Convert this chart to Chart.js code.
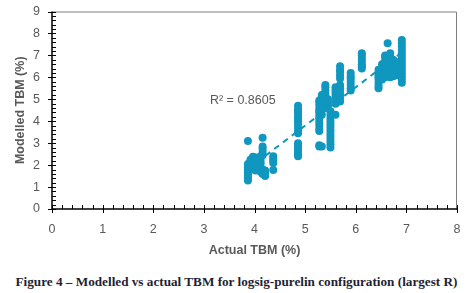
<!DOCTYPE html>
<html>
<head>
<meta charset="utf-8">
<script src="https://cdn.jsdelivr.net/npm/chart.js@4/dist/chart.umd.min.js"></script>
<style>
  body { margin: 0; background: #fff; width: 473px; height: 293px; overflow: hidden; position: relative; }
  #wrap { position: absolute; left: 0; top: 0; width: 473px; height: 262px; }
  #caption {
    position: absolute; left: 0; top: 274px; width: 473px; text-align: center;
    font: bold 13.2px "Liberation Serif", serif; color: #1f1f33; white-space: nowrap;
  }
</style>
</head>
<body>
<div id="wrap"><canvas id="chart" width="473" height="262"></canvas></div>
<div id="caption">Figure 4 – Modelled vs actual TBM for logsig-purelin configuration (largest R)</div>
<script>
// ---------------- Data ----------------
// actual TBM (x) and modelled TBM (y)
const actualTBM = [
  3.87, 3.87, 3.87, 3.87, 3.87, 3.87, 3.87, 3.87, 3.87, 3.87, 3.87, 3.87,
  3.92, 3.92, 3.92, 3.92, 3.92,
  3.97, 3.97, 3.97, 3.97, 3.97, 3.97,
  4.02, 4.02, 4.02, 4.02, 4.02, 4.02, 4.02,
  4.07, 4.07, 4.07, 4.07, 4.07, 4.07,
  4.12, 4.12, 4.12, 4.12, 4.12, 4.12,
  4.16, 4.16, 4.16, 4.16, 4.16, 4.16, 4.16, 4.16,
  4.21, 4.21, 4.21, 4.21,
  4.37, 4.37, 4.37, 4.37, 4.37,
  4.86, 4.86, 4.86, 4.86, 4.86, 4.86, 4.86, 4.86, 4.86, 4.86, 4.86, 4.86, 4.86, 4.86, 4.86, 4.86, 4.86, 4.86,
  5.28, 5.28, 5.28, 5.28, 5.28, 5.28, 5.28, 5.28, 5.28, 5.28, 5.28, 5.28, 5.28, 5.28,
  5.33, 5.33, 5.33, 5.33, 5.33, 5.33, 5.33, 5.33,
  5.40, 5.40, 5.40, 5.40, 5.40, 5.40, 5.40, 5.40, 5.40,
  5.45, 5.45, 5.45,
  5.50, 5.50, 5.50, 5.50, 5.50, 5.50, 5.50, 5.50, 5.50, 5.50, 5.50, 5.50,
  5.60, 5.60, 5.60, 5.60, 5.60, 5.60, 5.60,
  5.69, 5.69, 5.69, 5.69, 5.69, 5.69, 5.69, 5.69, 5.69, 5.69, 5.69,
  5.90, 5.90, 5.90, 5.90, 5.90, 5.90, 5.90,
  6.12, 6.12, 6.12, 6.12, 6.12, 6.12, 6.12,
  6.45, 6.45, 6.45, 6.45, 6.45, 6.45, 6.45, 6.45,
  6.52, 6.52, 6.52, 6.52, 6.52, 6.52,
  6.58, 6.58, 6.58, 6.58, 6.58, 6.58, 6.58, 6.58,
  6.63, 6.63, 6.63, 6.63, 6.63, 6.63, 6.63,
  6.68, 6.68, 6.68, 6.68, 6.68, 6.68, 6.68, 6.68,
  6.74, 6.74, 6.74, 6.74, 6.74, 6.74,
  6.80, 6.80, 6.80, 6.80, 6.80,
  6.86, 6.86, 6.86, 6.86,
  6.91, 6.91, 6.91, 6.91, 6.91, 6.91, 6.91, 6.91, 6.91, 6.91, 6.91, 6.91, 6.91, 6.91
];
const modelledTBM = [
  1.30, 1.38, 1.45, 1.52, 1.60, 1.68, 1.75, 1.82, 1.90, 1.98, 2.05, 3.10,
  1.85, 1.95, 2.05, 2.15, 2.25,
  1.90, 2.00, 2.10, 2.20, 2.30, 2.38,
  1.75, 1.85, 1.95, 2.05, 2.15, 2.25, 2.35,
  1.80, 1.90, 2.00, 2.10, 2.20, 2.30,
  1.70, 1.80, 2.05, 2.15, 2.30, 2.40,
  1.60, 1.70, 1.80, 2.45, 2.60, 2.75, 2.85, 3.25,
  1.50, 1.58, 1.65, 1.75,
  1.78, 2.10, 2.20, 2.30, 2.40,
  2.40, 2.50, 2.60, 2.70, 2.80, 2.90, 3.00, 3.45, 3.55, 3.70, 3.85, 4.00, 4.10, 4.20, 4.35, 4.45, 4.55, 4.70,
  2.85, 2.90, 3.55, 3.65, 3.80, 3.95, 4.10, 4.20, 4.35, 4.45, 4.55, 4.70, 4.85, 4.95,
  2.85, 4.30, 4.50, 4.65, 4.80, 4.95, 5.10, 5.20,
  4.60, 4.75, 4.90, 5.00, 5.10, 5.25, 5.40, 5.55, 5.65,
  4.70, 4.85, 5.00,
  2.80, 2.95, 3.10, 3.25, 3.40, 3.55, 3.70, 3.85, 4.00, 4.15, 4.30, 4.45,
  4.30, 4.80, 4.95, 5.10, 5.25, 5.40, 5.55,
  4.90, 5.05, 5.20, 5.35, 5.50, 5.65, 5.95, 6.10, 6.25, 6.35, 6.50,
  5.40, 5.50, 5.65, 5.80, 5.95, 6.05, 6.20,
  6.40, 6.50, 6.60, 6.75, 6.85, 7.00, 7.10,
  5.50, 5.60, 5.75, 5.90, 6.00, 6.10, 6.20, 6.35,
  5.90, 6.05, 6.15, 6.30, 6.45, 6.60,
  6.00, 6.15, 6.30, 6.45, 6.60, 6.75, 6.90, 7.00,
  6.10, 6.25, 6.40, 6.55, 6.70, 6.85, 7.55,
  6.00, 6.15, 6.30, 6.45, 6.60, 6.80, 6.95, 7.10,
  6.05, 6.20, 6.35, 6.50, 6.65, 6.80,
  6.10, 6.25, 6.40, 6.55, 6.70,
  6.10, 6.25, 6.40, 6.60,
  5.75, 5.90, 6.05, 6.20, 6.35, 6.50, 6.65, 6.80, 6.95, 7.10, 7.25, 7.40, 7.55, 7.70
];

// linear trendline
const trendSlope = 1.75;
const trendIntercept = -4.95;
const r2Label = "R² = 0.8605";

const xTicks = [0, 1, 2, 3, 4, 5, 6, 7, 8];
const yTicks = [0, 1, 2, 3, 4, 5, 6, 7, 8, 9];

const pointColor = "#1097bf";
const textGray = "#595959";

// ---------------- Build datasets ----------------
const points = actualTBM.map((x, i) => ({ x, y: modelledTBM[i] }));
const xMin = Math.min(...actualTBM);
const xMax = Math.max(...actualTBM);
const trend = [xMin, xMax].map(x => ({ x, y: trendSlope * x + trendIntercept }));

// ---------------- Plugin: frame, minor ticks, labels ----------------
const decorPlugin = {
  id: "decor",
  afterDatasetsDraw(chart) {
    const { ctx, chartArea: a, scales: { x, y } } = chart;
    ctx.save();

    // top + right frame
    ctx.strokeStyle = "#7f7f7f";
    ctx.lineWidth = 1;
    ctx.beginPath();
    ctx.moveTo(a.left, a.top + 0.5);
    ctx.lineTo(a.right - 0.5, a.top + 0.5);
    ctx.lineTo(a.right - 0.5, a.bottom);
    ctx.stroke();

    // axis lines
    ctx.strokeStyle = "#000";
    ctx.lineWidth = 1.5;
    ctx.beginPath();
    ctx.moveTo(a.left, a.top);
    ctx.lineTo(a.left, a.bottom);
    ctx.lineTo(a.right, a.bottom);
    ctx.stroke();

    // ticks: majors cross the axis, minors every 0.2 point inwards
    ctx.lineWidth = 1;
    ctx.beginPath();
    for (let i = 0; i <= 40; i++) {
      const px = Math.round(x.getPixelForValue(i / 5)) + 0.5;
      const major = i % 5 === 0;
      ctx.moveTo(px, a.bottom - 4);
      ctx.lineTo(px, a.bottom + (major ? 4 : 0));
    }
    for (let i = 0; i <= 45; i++) {
      const py = Math.round(y.getPixelForValue(i / 5)) + 0.5;
      const major = i % 5 === 0;
      ctx.moveTo(a.left - (major ? 4 : 0), py);
      ctx.lineTo(a.left + 4, py);
    }
    ctx.stroke();

    // R² label
    ctx.fillStyle = textGray;
    ctx.font = "12.5px 'Liberation Sans', sans-serif";
    ctx.textBaseline = "middle";
    ctx.fillText(r2Label, x.getPixelForValue(3.12), y.getPixelForValue(4.95));

    // y axis title, rotated, centred on the plot height
    ctx.font = "bold 12.5px 'Liberation Sans', sans-serif";
    ctx.textAlign = "center";
    ctx.translate(21, (a.top + a.bottom) / 2);
    ctx.rotate(-Math.PI / 2);
    ctx.fillText("Modelled TBM (%)", 0, 0);
    ctx.restore();
  }
};

// ---------------- Chart ----------------
new Chart(document.getElementById("chart"), {
  type: "scatter",
  data: {
    datasets: [
      {
        type: "line",
        data: trend,
        borderColor: pointColor,
        borderWidth: 2,
        borderDash: [6, 5],
        pointRadius: 0,
        fill: false,
      },
      {
        data: points,
        backgroundColor: pointColor,
        borderWidth: 0,
        pointRadius: 4,
      },
    ],
  },
  options: {
    responsive: false,
    animation: false,
    events: [],
    layout: { padding: { left: 0, right: 16, top: 11, bottom: 0 } },
    plugins: { legend: { display: false }, tooltip: { enabled: false } },
    scales: {
      x: {
        min: 0, max: 8,
        afterBuildTicks: s => { s.ticks = xTicks.map(v => ({ value: v })); },
        afterFit: s => { s.height = 53; },
        grid: { display: false },
        border: { display: false },
        ticks: { color: textGray, font: { family: "Liberation Sans", size: 12.5 }, padding: 5 },
        title: {
          display: true, text: "Actual TBM (%)", color: textGray,
          font: { family: "Liberation Sans", size: 12.5, weight: "bold" }, padding: { top: 2 },
        },
      },
      y: {
        min: 0, max: 9,
        afterBuildTicks: s => { s.ticks = yTicks.map(v => ({ value: v })); },
        afterFit: s => { s.width = 52; },
        grid: { display: false },
        border: { display: false },
        ticks: { color: textGray, font: { family: "Liberation Sans", size: 12.5 }, padding: 4 },
        title: { display: false },
      },
    },
  },
  plugins: [decorPlugin],
});
</script>
</body>
</html>
